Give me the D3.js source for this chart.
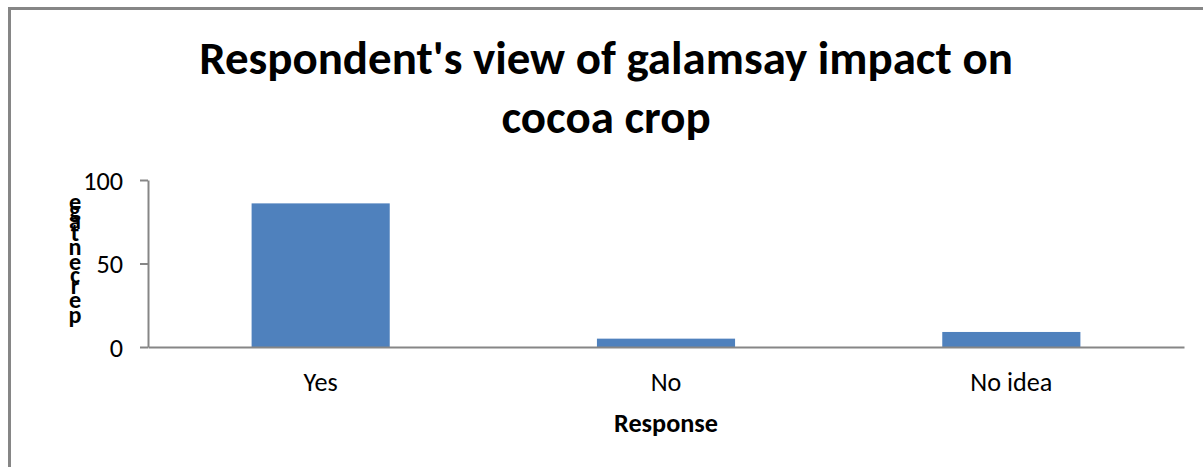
<!DOCTYPE html>
<html>
<head>
<meta charset="utf-8">
<script src="https://cdn.jsdelivr.net/npm/d3@7"></script>
<style>
  html, body { margin: 0; padding: 0; background: #ffffff; }
  svg { display: block; }
  text { font-family: Carlito, Calibri, Lato, "Open Sans", sans-serif; fill: #000; }
</style>
</head>
<body>
<svg id="chart" width="1203" height="467"></svg>
<script>
// ---- data ----
const categories = ["Yes", "No", "No idea"];
const values = [86, 5, 9];
const yTicks = [0, 50, 100];
const titleLines = ["Respondent's view of galamsay impact on", "cocoa crop"];
const xTitle = "Response";
const yTitle = "percentage";

// ---- layout ----
const plot = { left: 148, right: 1184, top: 180, bottom: 347 };
const barColor = "#4F81BD";
const axisColor = "#868686";
const fontStack = "Carlito, Calibri, Lato, 'Open Sans', sans-serif";

const svg = d3.select("#chart");

// chart border (extends past right/bottom edge as in reference)
svg.append("rect")
  .attr("x", 9.5).attr("y", 8.5)
  .attr("width", 1300).attr("height", 600)
  .attr("fill", "#fff")
  .attr("stroke", axisColor).attr("stroke-width", 3);

const x = d3.scaleBand().domain(categories)
  .range([plot.left, plot.right]).paddingInner(0.6).paddingOuter(0.3);
const y = d3.scaleLinear().domain([0, 100]).range([plot.bottom, plot.top]);

// helper: fit font size so text reaches target width
function fit(sel, target) {
  const base = 20;
  sel.style("font-size", base + "px");
  const w = sel.node().getComputedTextLength();
  const s = base * target / w;
  sel.style("font-size", s + "px");
  return s;
}

// bars
svg.append("g").selectAll("rect").data(values).join("rect")
  .attr("x", (d, i) => x(categories[i]))
  .attr("width", x.bandwidth())
  .attr("y", d => y(d))
  .attr("height", d => y(0) - y(d))
  .attr("fill", barColor);

// measure regular label size from "No idea"
const probe = svg.append("text").text("No idea");
const regSize = fit(probe, 82);
probe.remove();

// y axis
const yAxis = svg.append("g")
  .attr("transform", `translate(${plot.left},0)`)
  .call(d3.axisLeft(y).tickValues(yTicks).tickSize(8).tickSizeOuter(0).tickPadding(17));
yAxis.select(".domain").attr("stroke", axisColor).attr("stroke-width", 2);
yAxis.selectAll(".tick line").attr("stroke", axisColor).attr("stroke-width", 2);
yAxis.selectAll(".tick text")
  .style("font-family", fontStack)
  .style("font-size", regSize + "px").attr("fill", "#000").attr("dy", "0.36em");

// x axis
const xAxis = svg.append("g")
  .attr("transform", `translate(0,${plot.bottom})`)
  .call(d3.axisBottom(x).tickSize(0).tickSizeOuter(0).tickPadding(0));
xAxis.select(".domain").attr("stroke", axisColor).attr("stroke-width", 2);
xAxis.selectAll(".tick text")
  .style("font-family", fontStack)
  .style("font-size", regSize + "px").attr("fill", "#000")
  .attr("y", 0).attr("dy", 44);

// title
const t1 = svg.append("text").attr("text-anchor", "middle")
  .attr("x", 606).attr("y", 74).style("font-weight", "bold").text(titleLines[0]);
const titleSize = fit(t1, 814);
svg.append("text").attr("text-anchor", "middle")
  .attr("x", 606).attr("y", 133).style("font-weight", "bold")
  .style("font-size", titleSize + "px").text(titleLines[1]);

// x axis title
const xt = svg.append("text").attr("text-anchor", "middle")
  .attr("x", (plot.left + plot.right) / 2).attr("y", 432)
  .style("font-weight", "bold").text(xTitle);
const boldSize = fit(xt, 104);

// y axis title: upright glyphs stacked bottom-to-top, overlapping as in the reference
const glyphBase = [323, 308, 294, 283, 270, 255, 241, 229, 218, 210];
svg.append("text")
  .attr("text-anchor", "middle")
  .attr("x", yTitle.split("").map(() => 75).join(" "))
  .attr("y", glyphBase.join(" "))
  .style("font-weight", "bold")
  .style("font-size", (boldSize * 0.92) + "px")
  .text(yTitle);
</script>
</body>
</html>
